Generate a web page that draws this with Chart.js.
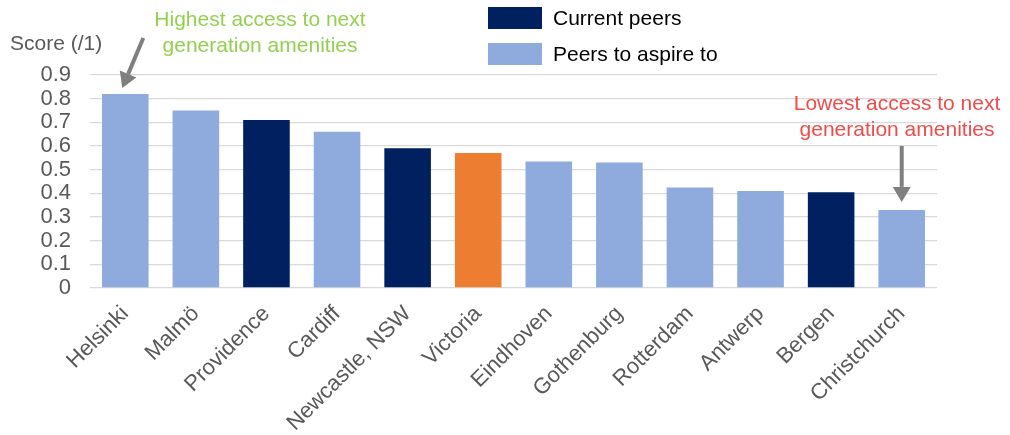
<!DOCTYPE html>
<html>
<head>
<meta charset="utf-8">
<script src="https://cdn.jsdelivr.net/npm/chart.js@4.4.1/dist/chart.umd.min.js"></script>
<style>
    html, body { margin: 0; padding: 0; background: #ffffff; }
    #wrap { position: relative; width: 1010px; height: 435px; }
</style>
</head>
<body>
<div id="wrap"><canvas id="scoreChart" width="1010" height="435"></canvas></div>
<script>
// Cities, scores (/1) and peer group of each bar
const cities = ["Helsinki", "Malmö", "Providence", "Cardiff", "Newcastle, NSW", "Victoria",
    "Eindhoven", "Gothenburg", "Rotterdam", "Antwerp", "Bergen", "Christchurch"];
const scores = [0.82, 0.75, 0.71, 0.66, 0.59, 0.57, 0.535, 0.53, 0.425, 0.41, 0.405, 0.33];
const groups = ["aspire", "aspire", "current", "aspire", "current", "home",
    "aspire", "aspire", "aspire", "aspire", "current", "aspire"];

const yTicks = [0, 0.1, 0.2, 0.3, 0.4, 0.5, 0.6, 0.7, 0.8, 0.9];

const legendLabels = ["Current peers", "Peers to aspire to"];
const highNote = ["Highest access to next", "generation amenities"];
const lowNote = ["Lowest access to next", "generation amenities"];
const yTitle = "Score (/1)";

const groupColors = {
    current: "#002060",
    aspire: "#8FAADC",
    home: "#ED7D31"
};

const FONT = "'Liberation Sans', Arial, sans-serif";
const TEXT_GREY = "#595959";

// Draw a thick grey arrow from (x1,y1) to the tip (x2,y2)
function drawArrow(ctx, x1, y1, x2, y2) {
    const ang = Math.atan2(y2 - y1, x2 - x1);
    const head = 15;
    const bx = x2 - Math.cos(ang) * head;
    const by = y2 - Math.sin(ang) * head;
    ctx.save();
    ctx.strokeStyle = "#7F7F7F";
    ctx.fillStyle = "#7F7F7F";
    ctx.lineWidth = 4;
    ctx.beginPath();
    ctx.moveTo(x1, y1);
    ctx.lineTo(bx, by);
    ctx.stroke();
    ctx.beginPath();
    ctx.moveTo(x2, y2);
    ctx.lineTo(bx + Math.cos(ang + Math.PI / 2) * 9, by + Math.sin(ang + Math.PI / 2) * 9);
    ctx.lineTo(bx + Math.cos(ang - Math.PI / 2) * 9, by + Math.sin(ang - Math.PI / 2) * 9);
    ctx.closePath();
    ctx.fill();
    ctx.restore();
}

// Legend, axis title and the two call-outs
const overlayPlugin = {
    id: "overlay",
    afterDraw(chart) {
        const ctx = chart.ctx;
        const x = chart.scales.x;
        const y = chart.scales.y;

        ctx.save();
        ctx.font = "21px " + FONT;
        ctx.textBaseline = "middle";

        // axis title
        ctx.fillStyle = TEXT_GREY;
        ctx.textAlign = "left";
        ctx.fillText(yTitle, 10, 44);

        // legend
        const legendColors = [groupColors.current, groupColors.aspire];
        legendLabels.forEach((label, i) => {
            const top = 7 + i * 36;
            ctx.fillStyle = legendColors[i];
            ctx.fillRect(488, top, 54, 22);
            ctx.fillStyle = "#000000";
            ctx.fillText(label, 553, top + 12);
        });

        // highest score call-out
        ctx.textAlign = "center";
        ctx.fillStyle = "#92D050";
        ctx.fillText(highNote[0], 260, 20);
        ctx.fillText(highNote[1], 260, 46);
        const iHigh = scores.indexOf(Math.max(...scores));
        const hx = x.getPixelForValue(iHigh);
        const hy = y.getPixelForValue(scores[iHigh]);
        drawArrow(ctx, hx + 18, hy - 56, hx - 3, hy - 6);

        // lowest score call-out
        ctx.fillStyle = "#F04B4B";
        ctx.fillText(lowNote[0], 897, 104);
        ctx.fillText(lowNote[1], 897, 130);
        const iLow = scores.indexOf(Math.min(...scores));
        const lx = x.getPixelForValue(iLow);
        drawArrow(ctx, lx, 146, lx, y.getPixelForValue(scores[iLow]) - 8);

        ctx.restore();
    }
};

const ctx = document.getElementById("scoreChart").getContext("2d");

new Chart(ctx, {
    type: "bar",
    data: {
        labels: cities,
        datasets: [{
            data: scores,
            backgroundColor: groups.map(g => groupColors[g]),
            borderWidth: 0,
            barPercentage: 0.66,
            categoryPercentage: 1
        }]
    },
    options: {
        responsive: false,
        animation: false,
        layout: { padding: { top: 75, right: 73, left: 0, bottom: 0 } },
        plugins: {
            legend: { display: false },
            tooltip: { enabled: false }
        },
        scales: {
            x: {
                grid: { display: false },
                border: { display: false },
                ticks: {
                    color: TEXT_GREY,
                    font: { family: FONT, size: 22 },
                    minRotation: 45,
                    maxRotation: 45,
                    autoSkip: false,
                    padding: 5
                },
                afterFit(scale) { scale.height = 147; }
            },
            y: {
                min: 0,
                max: 0.9,
                afterBuildTicks(scale) {
                    scale.ticks = yTicks.map(v => ({ value: v }));
                },
                grid: { color: "#D9D9D9", lineWidth: 1.3, drawTicks: false },
                border: { display: false },
                ticks: {
                    color: TEXT_GREY,
                    font: { family: FONT, size: 22 },
                    autoSkip: false,
                    padding: 19,
                    callback: v => (v === 0 ? "0" : v.toFixed(1))
                },
                afterFit(scale) { scale.width = 90; }
            }
        }
    },
    plugins: [overlayPlugin]
});
</script>
</body>
</html>
